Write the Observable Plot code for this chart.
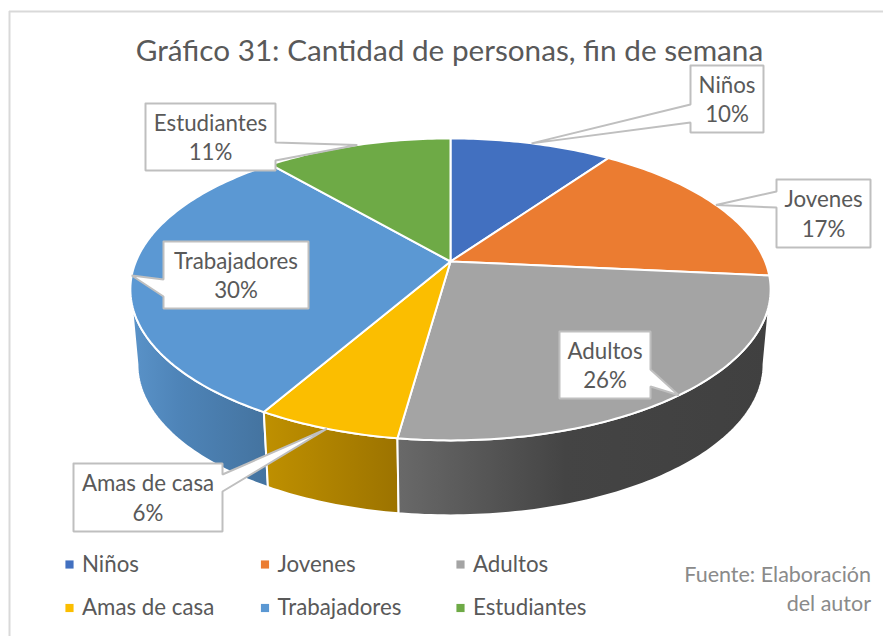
<!DOCTYPE html>
<html>
<head>
<meta charset="utf-8">
<style>
html,body{margin:0;padding:0;background:#fff;overflow:hidden}
svg{display:block}
</style>
<script src="https://cdn.jsdelivr.net/npm/d3@7"></script>
<script src="https://cdn.jsdelivr.net/npm/@observablehq/plot@0.6"></script>
</head>
<body>
<script>
// ---- data ----
const categorias = ["Niños", "Jovenes", "Adultos", "Amas de casa", "Trabajadores", "Estudiantes"];
const porcentajes = [9.8, 16.7, 25.7, 6.1, 30.4, 11.3];
const colores = ["#4270c0", "#eb7c31", "#a4a4a4", "#fbbe00", "#5b98d3", "#6eaa46"];
const titulo = "Gráfico 31: Cantidad de personas, fin de semana";
const fuente = ["Fuente: Elaboración", "del autor"];

// ---- layout (kept apart from the values) ----
const W = 883, H = 636, FONT = "Lato, Carlito, sans-serif", INK = "#595959";
const pie = {cx: 450, cy: 261, R: 314.6, B: 145.8, k: -0.185, depth: 75, shrink: 0.978};
const callouts = {
  "Niños":        {box: [690, 65, 763, 132],  side: "left",  base: [122, 104]},
  "Jovenes":      {box: [776, 179, 870, 247], side: "left",  base: [207, 191]},
  "Adultos":      {box: [559, 331, 650, 398], side: "right", base: [369, 386]},
  "Amas de casa": {box: [73, 463, 222, 531],  side: "right", base: [474, 491]},
  "Trabajadores": {box: [163, 241, 308, 308], side: "left",  base: [296, 279]},
  "Estudiantes":  {box: [145, 103, 275, 170], side: "right", base: [142, 160]}
};

// ---- geometry derived from the values ----
function bordeSup(deg) {
  const a = deg * Math.PI / 180, u = Math.sin(a), v = -Math.cos(a), w = 1 + pie.k * v;
  return [pie.cx + pie.R * u / w, pie.cy + pie.B * v / w];
}
function bordeInf(deg) {
  const [x, y] = bordeSup(deg);
  return [pie.cx + pie.shrink * (x - pie.cx), y + pie.depth];
}
const finales = d3.cumsum(porcentajes);
const rebanadas = categorias.map((c, i) => ({
  c, i,
  a0: (i ? finales[i - 1] : 0) * 3.6,
  a1: finales[i] * 3.6,
  pct: Math.round(porcentajes[i]) + "%"
}));
const arco = (s) => {
  const n = Math.max(2, Math.ceil(s.a1 - s.a0));
  return d3.range(n + 1).map(j => s.a0 + (s.a1 - s.a0) * j / n);
};
const caras = rebanadas.flatMap(s => {
  const pts = [[pie.cx, pie.cy], ...arco(s).map(bordeSup), [pie.cx, pie.cy]];
  return pts.map(([x, y]) => ({x, y, c: s.c}));
});
// the side wall only shows between the two silhouette tangents of the rim
const tangente = Math.acos(pie.k) * 180 / Math.PI;
const paredPts = (c) => {
  const s = rebanadas.find(r => r.c === c);
  const as = arco({a0: Math.max(s.a0, tangente), a1: Math.min(s.a1, 360 - tangente)});
  const pts = [...as.map(bordeSup), ...as.slice().reverse().map(bordeInf)];
  pts.push(pts[0]);
  return pts.map(([x, y]) => ({x, y}));
};
const globos = rebanadas.map(s => {
  const l = callouts[s.c], [x0, y0, x1, y1] = l.box;
  const tip = bordeSup((s.a0 + s.a1) / 2);
  const pts = l.side === "left"
    ? [[x0, y0], [x1, y0], [x1, y1], [x0, y1], [x0, l.base[0]], tip, [x0, l.base[1]], [x0, y0]]
    : [[x0, y0], [x1, y0], [x1, l.base[0]], tip, [x1, l.base[1]], [x1, y1], [x0, y1], [x0, y0]];
  return pts.map(([x, y]) => ({x, y, c: s.c}));
}).flat();
const globoTextos = rebanadas.map(s => {
  const [x0, y0, x1, y1] = callouts[s.c].box;
  return {x: (x0 + x1) / 2, y: (y0 + y1) / 2 - 1, t: s.c + "\n" + s.pct};
});
const leyenda = categorias.map((c, i) => ({
  c, x: 69 + 195.5 * (i % 3), y: 564 + 43.5 * Math.floor(i / 3)
}));

// gradients for the side walls
function defs() {
  const svg = d3.create("svg:defs");
  const grad = (id, stops) => {
    const g = svg.append("linearGradient").attr("id", id).attr("x1", 0).attr("x2", 1).attr("y1", 0).attr("y2", 0);
    stops.forEach(([o, col]) => g.append("stop").attr("offset", o).attr("stop-color", col));
  };
  grad("gAdultos", [[0, "#696969"], [0.45, "#444444"], [1, "#404040"]]);
  grad("gAmas", [[0, "#bf9000"], [1, "#9c7300"]]);
  grad("gTrab", [[0, "#5a93c9"], [0.35, "#4e84b8"], [1, "#44739f"]]);
  return svg.node();
}
const pared = (c, fill) => Plot.line(paredPts(c), {
  x: "x", y: "y", fill, stroke: "#fff", strokeWidth: 2, strokeLinejoin: "round", curve: "linear"
});

const chart = Plot.plot({
  width: W, height: H, margin: 0,
  style: {background: "#fff", fontFamily: FONT},
  x: {domain: [0, W], range: [0, W], axis: null},
  y: {domain: [0, H], range: [0, H], axis: null},
  color: {domain: categorias, range: colores},
  marks: [
    defs,
    Plot.ruleX([9], {y1: 11, y2: H, stroke: "#d9d9d9", strokeWidth: 2}),
    Plot.ruleY([11], {x1: 9, x2: W, stroke: "#d9d9d9", strokeWidth: 2}),
    pared("Trabajadores", "url(#gTrab)"),
    pared("Amas de casa", "url(#gAmas)"),
    pared("Adultos", "url(#gAdultos)"),
    Plot.line(caras, {x: "x", y: "y", z: "c", fill: "c", stroke: "#fff", strokeWidth: 2, strokeLinejoin: "round", curve: "linear"}),
    Plot.line(globos, {x: "x", y: "y", z: "c", fill: "#fff", stroke: "#bfbfbf", strokeWidth: 2, strokeLinejoin: "miter", curve: "linear"}),
    Plot.text(globoTextos, {x: "x", y: "y", text: "t", fill: INK, fontSize: 22.3, lineHeight: 1.32, textAnchor: "middle"}),
    Plot.text([titulo], {x: 449, y: 51, text: d => d, fill: INK, fontSize: 29.7, textAnchor: "middle"}),
    Plot.dot(leyenda, {x: "x", y: "y", fill: "c", symbol: "square", r: 4.6}),
    Plot.text(leyenda, {x: "x", y: "y", text: "c", dx: 12.5, fill: INK, fontSize: 22.3, textAnchor: "start"}),
    Plot.text(fuente, {x: 870.5, y: (d, i) => 575 + 29 * i, text: d => d, fill: "#8a8a8a", fontSize: 21.5, textAnchor: "end", letterSpacing: 1.65})
  ]
});
document.body.appendChild(chart);
</script>
</body>
</html>
